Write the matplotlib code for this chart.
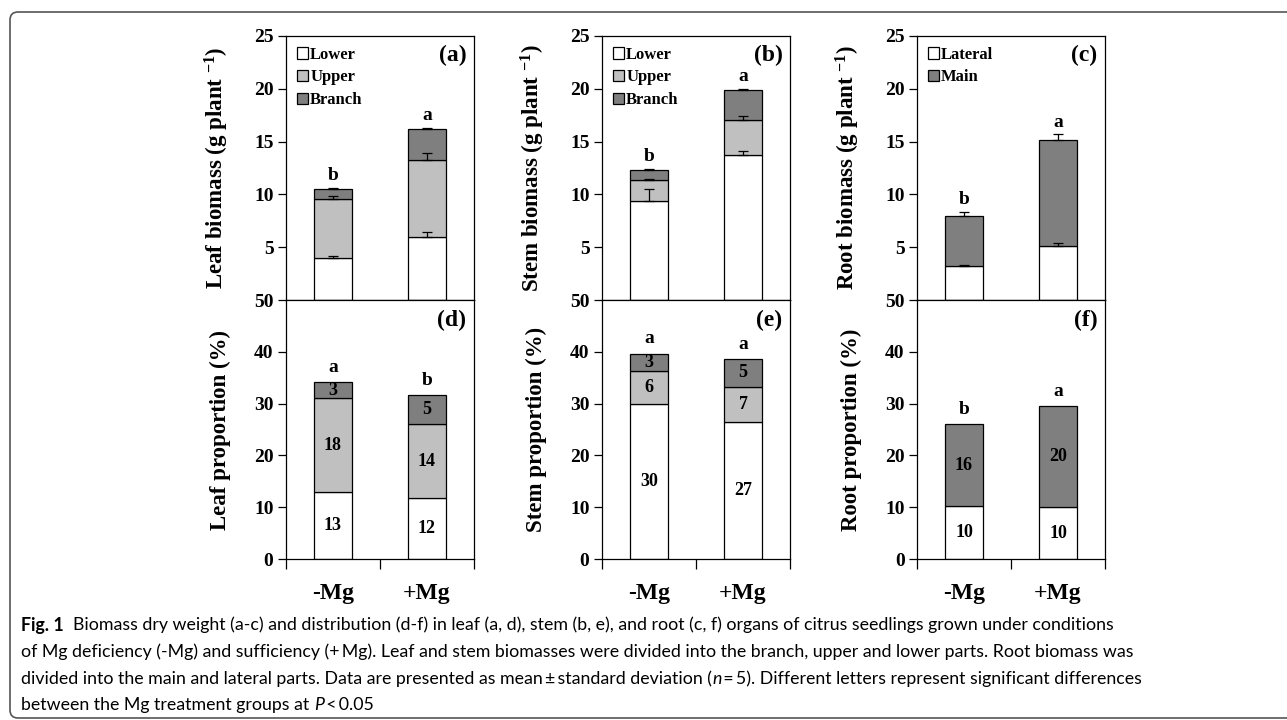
import matplotlib.pyplot as plt
import numpy as np
from matplotlib.patches import FancyBboxPatch
from matplotlib.transforms import IdentityTransform

plt.rcParams['font.family'] = 'Liberation Serif'
plt.rcParams['font.weight'] = 'bold'
plt.rcParams['axes.labelweight'] = 'bold'
plt.rcParams['mathtext.fontset'] = 'custom'
plt.rcParams['mathtext.rm'] = 'Liberation Serif:bold'
plt.rcParams['mathtext.bf'] = 'Liberation Serif:bold'
plt.rcParams['mathtext.it'] = 'Liberation Serif:bold'
plt.rcParams['axes.linewidth'] = 0.9

# treatments
groups = ['-Mg', '+Mg']

# biomass (g plant-1), mean and SD
leaf_lower = [4.0, 6.0]
leaf_lower_sd = [0.2, 0.4]
leaf_upper = [5.6, 7.3]
leaf_upper_sd = [0.28, 0.6]
leaf_branch = [0.9, 2.85]
leaf_branch_sd = [0.1, 0.1]

stem_lower = [9.4, 13.75]
stem_lower_sd = [1.1, 0.4]
stem_upper = [1.95, 3.25]
stem_upper_sd = [0.13, 0.4]
stem_branch = [1.0, 2.9]
stem_branch_sd = [0.03, 0.06]

root_lateral = [3.2, 5.15]
root_lateral_sd = [0.1, 0.28]
root_main = [4.8, 10.0]
root_main_sd = [0.38, 0.54]

# proportions (%)
leaf_prop_lower = [13.0, 11.7]
leaf_prop_upper = [18.0, 14.3]
leaf_prop_branch = [3.1, 5.6]
stem_prop_lower = [30.0, 26.5]
stem_prop_upper = [6.3, 6.8]
stem_prop_branch = [3.3, 5.3]
root_prop_lateral = [10.2, 10.0]
root_prop_main = [15.8, 19.5]

# numbers printed inside the proportion bars (per segment, per group)
leaf_prop_text = [['13', '12'], ['18', '14'], ['3', '5']]
stem_prop_text = [['30', '27'], ['6', '7'], ['3', '5']]
root_prop_text = [['10', '10'], ['16', '20']]

# significance letters
leaf_letters = ['b', 'a']
stem_letters = ['b', 'a']
root_letters = ['b', 'a']
leaf_prop_letters = ['a', 'b']
stem_prop_letters = ['a', 'a']
root_prop_letters = ['b', 'a']

c_lower = 'white'
c_upper = '#c0c0c0'
c_branch = '#7f7f7f'

xpos = np.array([0.5, 1.5])
width = 0.4

fig = plt.figure(figsize=(12.87, 7.2), dpi=100)

lefts = [286, 602, 917]
W, H = 1287, 720
ax_w = 188 / W
top_ax = []
bot_ax = []
for l in lefts:
    top_ax.append(fig.add_axes([l / W, 1 - 300 / H, ax_w, 264 / H]))
    bot_ax.append(fig.add_axes([l / W, 1 - 559 / H, ax_w, 259 / H]))


def stacked(ax, parts, sds, colors, names):
    bottom = np.zeros(2)
    for vals, sd, col, name in zip(parts, sds, colors, names):
        vals = np.array(vals)
        ax.bar(xpos, vals, width, bottom=bottom, color=col, edgecolor='black',
               linewidth=0.9, label=name, zorder=2)
        top = bottom + vals
        if sd is not None:
            ax.errorbar(xpos, top, yerr=[np.zeros(2), sd], fmt='none', ecolor='black',
                        elinewidth=0.9, capsize=3.5, capthick=0.9, zorder=3)
        bottom = top
    return bottom


def style_top(ax, ylabel, tag):
    ax.set_xlim(0, 2)
    ax.set_ylim(0, 25)
    ax.set_xticks([])
    ax.set_yticks([5, 10, 15, 20, 25])
    ax.tick_params(axis='y', direction='out', length=6, width=0.9, labelsize=14, pad=3)
    ax.set_ylabel(ylabel, fontsize=16.5, fontweight='bold')
    ax.yaxis.set_label_coords(-0.29, 0.5)
    ax.text(0.96, 0.925, tag, transform=ax.transAxes, ha='right', va='center', fontsize=17)
    ax.legend(loc='upper left', frameon=False, handlelength=0.65, handleheight=0.65,
              handletextpad=0.15, labelspacing=0.4, borderaxespad=0.25,
              prop={'weight': 'bold', 'size': 12})


def style_bottom(ax, ylabel, tag):
    ax.set_xlim(0, 2)
    ax.set_ylim(0, 50)
    ax.set_yticks([0, 10, 20, 30, 40, 50])
    ax.set_xticks([0, 1, 2])
    ax.set_xticklabels([])
    ax.set_xticks(xpos, minor=True)
    ax.set_xticklabels(groups, minor=True)
    ax.tick_params(axis='x', which='major', direction='out', length=7, width=0.9)
    ax.tick_params(axis='x', which='minor', length=0, labelsize=17, pad=17)
    ax.tick_params(axis='y', direction='out', length=6, width=0.9, labelsize=14, pad=3)
    ax.set_ylabel(ylabel, fontsize=16.5, fontweight='bold')
    ax.yaxis.set_label_coords(-0.29, 0.5)
    ax.text(0.96, 0.92, tag, transform=ax.transAxes, ha='right', va='center', fontsize=17)


def letters_on(ax, tops, letters, off):
    for x, t, s in zip(xpos, tops, letters):
        ax.text(x, t + off, s, ha='center', va='center', fontsize=14)


def numbers_in(ax, parts, texts):
    bottom = np.zeros(2)
    for vals, txt in zip(parts, texts):
        vals = np.array(vals)
        for x, b, v, s in zip(xpos, bottom, vals, txt):
            ax.text(x, b + v / 2, s, ha='center', va='center', fontsize=13)
        bottom = bottom + vals


# (a) leaf biomass
ax = top_ax[0]
tops = stacked(ax, [leaf_lower, leaf_upper, leaf_branch],
               [leaf_lower_sd, leaf_upper_sd, leaf_branch_sd],
               [c_lower, c_upper, c_branch], ['Lower', 'Upper', 'Branch'])
letters_on(ax, tops + np.array(leaf_branch_sd), leaf_letters, 1.2)
style_top(ax, r'Leaf biomass (g plant $^{-1}$)', '(a)')

# (b) stem biomass
ax = top_ax[1]
tops = stacked(ax, [stem_lower, stem_upper, stem_branch],
               [stem_lower_sd, stem_upper_sd, stem_branch_sd],
               [c_lower, c_upper, c_branch], ['Lower', 'Upper', 'Branch'])
letters_on(ax, tops + np.array(stem_branch_sd), stem_letters, 1.2)
style_top(ax, r'Stem biomass (g plant $^{-1}$)', '(b)')

# (c) root biomass
ax = top_ax[2]
tops = stacked(ax, [root_lateral, root_main], [root_lateral_sd, root_main_sd],
               [c_lower, c_branch], ['Lateral', 'Main'])
letters_on(ax, tops + np.array(root_main_sd), root_letters, 1.1)
style_top(ax, r'Root biomass (g plant $^{-1}$)', '(c)')

# (d) leaf proportion
ax = bot_ax[0]
parts = [leaf_prop_lower, leaf_prop_upper, leaf_prop_branch]
tops = stacked(ax, parts, [None] * 3, [c_lower, c_upper, c_branch], ['Lower', 'Upper', 'Branch'])
numbers_in(ax, parts, leaf_prop_text)
letters_on(ax, tops, leaf_prop_letters, 2.8)
style_bottom(ax, 'Leaf proportion (%)', '(d)')

# (e) stem proportion
ax = bot_ax[1]
parts = [stem_prop_lower, stem_prop_upper, stem_prop_branch]
tops = stacked(ax, parts, [None] * 3, [c_lower, c_upper, c_branch], ['Lower', 'Upper', 'Branch'])
numbers_in(ax, parts, stem_prop_text)
letters_on(ax, tops, stem_prop_letters, 2.9)
style_bottom(ax, 'Stem proportion (%)', '(e)')

# (f) root proportion
ax = bot_ax[2]
parts = [root_prop_lateral, root_prop_main]
tops = stacked(ax, parts, [None] * 2, [c_lower, c_branch], ['Lateral', 'Main'])
numbers_in(ax, parts, root_prop_text)
letters_on(ax, tops, root_prop_letters, 2.9)
style_bottom(ax, 'Root proportion (%)', '(f)')

# rounded frame around the figure
frame = FancyBboxPatch((10, 2), 1320, 706, boxstyle='round,pad=0,rounding_size=8',
                       transform=IdentityTransform(), facecolor='none',
                       edgecolor='#555555', linewidth=1.2)
fig.patches.append(frame)

# caption
cap_font = ['Lato', 'DejaVu Sans']
cap_size = 12.8
renderer = fig.canvas.get_renderer()


def caption_line(x_px, y_px, pieces):
    x = x_px / W
    for s, weight, style in pieces:
        t = fig.text(x, 1 - y_px / H, s, ha='left', va='center', family=cap_font,
                     fontsize=cap_size, fontweight=weight, fontstyle=style)
        x += t.get_window_extent(renderer).width / W


caption_line(21, 625, [('Fig. 1', 'bold', 'normal'),
                       ('  Biomass dry weight (a-c) and distribution (d-f) in leaf (a, d), stem (b, e), '
                        'and root (c, f) organs of citrus seedlings grown under conditions', 'normal', 'normal')])
caption_line(21, 652, [('of Mg deficiency (-Mg) and sufficiency (+\u2009Mg). Leaf and stem biomasses were divided '
                        'into the branch, upper and lower parts. Root biomass was', 'normal', 'normal')])
caption_line(21, 679, [('divided into the main and lateral parts. Data are presented as mean\u2009\u00b1\u2009standard '
                        'deviation (', 'normal', 'normal'),
                       ('n', 'normal', 'italic'),
                       ('\u2009=\u20095). Different letters represent significant differences', 'normal', 'normal')])
caption_line(21, 705, [('between the Mg treatment groups at ', 'normal', 'normal'),
                       ('P', 'normal', 'italic'),
                       ('\u2009<\u20090.05', 'normal', 'normal')])

fig.savefig('out.png', dpi=100)
